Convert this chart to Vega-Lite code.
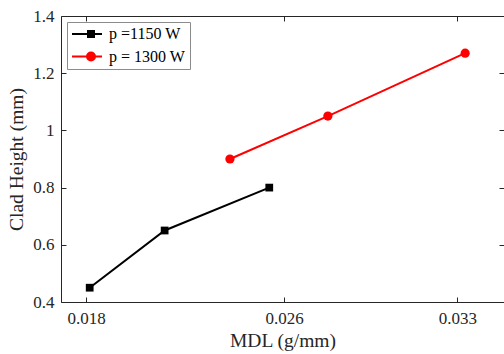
{
  "$schema": "https://vega.github.io/schema/vega-lite/v6.json",
  "width": 443,
  "height": 286,
  "autosize": {"type": "none"},
  "padding": {"left": 61, "top": 16, "right": 0, "bottom": 52},
  "config": {
    "view": {"stroke": null},
    "font": "Liberation Serif",
    "axis": {
      "grid": false,
      "domainColor": "#262626",
      "domainWidth": 1,
      "tickColor": "#262626",
      "tickWidth": 1,
      "tickSize": -5,
      "labelColor": "#262626",
      "titleColor": "#262626",
      "labelFont": "Liberation Serif",
      "titleFont": "Liberation Serif",
      "labelFontSize": 17,
      "titleFontSize": 19.5,
      "titleFontWeight": "normal"
    }
  },
  "data": {
    "values": [
      {"series": "p =1150 W", "mdl": 0.01814, "height": 0.45},
      {"series": "p =1150 W", "mdl": 0.02117, "height": 0.65},
      {"series": "p =1150 W", "mdl": 0.0254, "height": 0.8},
      {"series": "p = 1300 W", "mdl": 0.02381, "height": 0.9},
      {"series": "p = 1300 W", "mdl": 0.02777, "height": 1.05},
      {"series": "p = 1300 W", "mdl": 0.03332, "height": 1.27}
    ]
  },
  "layer": [
    {
      "mark": {"type": "line", "strokeWidth": 2},
      "encoding": {
        "x": {
          "field": "mdl", "type": "quantitative",
          "scale": {"domain": [0.01698, 0.03489], "nice": false, "zero": false},
          "axis": {"orient": "bottom", "values": [0.018, 0.026, 0.033], "format": ".3f", "title": "MDL (g/mm)", "labelPadding": 13, "titlePadding": 5}
        },
        "y": {
          "field": "height", "type": "quantitative",
          "scale": {"domain": [0.4, 1.4], "nice": false, "zero": false},
          "axis": {"orient": "left", "values": [0.4, 0.6, 0.8, 1, 1.2, 1.4], "format": "~g", "title": "Clad Height (mm)", "labelPadding": 12, "titlePadding": 6}
        },
        "color": {
          "field": "series", "type": "nominal",
          "scale": {"domain": ["p =1150 W", "p = 1300 W"], "range": ["#000000", "#ff0000"]},
          "legend": {
            "orient": "none",
            "legendX": 6,
            "legendY": 6,
            "title": null,
            "fillColor": "#ffffff",
            "strokeColor": "#8c8c8c",
            "padding": 4,
            "rowPadding": 6.5,
            "labelFont": "Liberation Serif",
            "labelFontSize": 16,
            "labelColor": "#000000",
            "symbolSize": 100,
            "symbolStrokeWidth": 2,
            "labelOffset": 22,
            "encode": {
              "symbols": {
                "update": {
                  "shape": {"signal": "datum.value == 'p =1150 W' ? 'M-1.4,0H4.6M1.8,-0.6H3V0.6H1.8Z' : 'M-1.4,0H4.6M3.2,0A0.8,0.8 0 1,1 1.6,0A0.8,0.8 0 1,1 3.2,0Z'"},
                  "fill": {"signal": "datum.value == 'p =1150 W' ? '#000000' : '#ff0000'"},
                  "strokeWidth": {"value": 2},
                  "opacity": {"value": 1}
                }
              }
            }
          }
        }
      }
    },
    {
      "transform": [{"filter": "datum.series == 'p =1150 W'"}],
      "mark": {"type": "point", "shape": "square", "filled": true, "opacity": 1, "color": "#000000", "size": 60},
      "encoding": {
        "x": {
          "field": "mdl", "type": "quantitative",
          "axis": {"orient": "top", "values": [0.018, 0.026, 0.033], "labels": false, "title": null}
        },
        "y": {
          "field": "height", "type": "quantitative",
          "axis": {"orient": "right", "values": [0.4, 0.6, 0.8, 1, 1.2, 1.4], "labels": false, "title": null, "domain": false}
        }
      }
    },
    {
      "transform": [{"filter": "datum.series == 'p = 1300 W'"}],
      "mark": {"type": "point", "shape": "circle", "filled": true, "opacity": 1, "color": "#ff0000", "size": 85},
      "encoding": {
        "x": {"field": "mdl", "type": "quantitative", "axis": null},
        "y": {"field": "height", "type": "quantitative", "axis": null}
      }
    }
  ],
  "resolve": {"axis": {"x": "independent", "y": "independent"}}
}
